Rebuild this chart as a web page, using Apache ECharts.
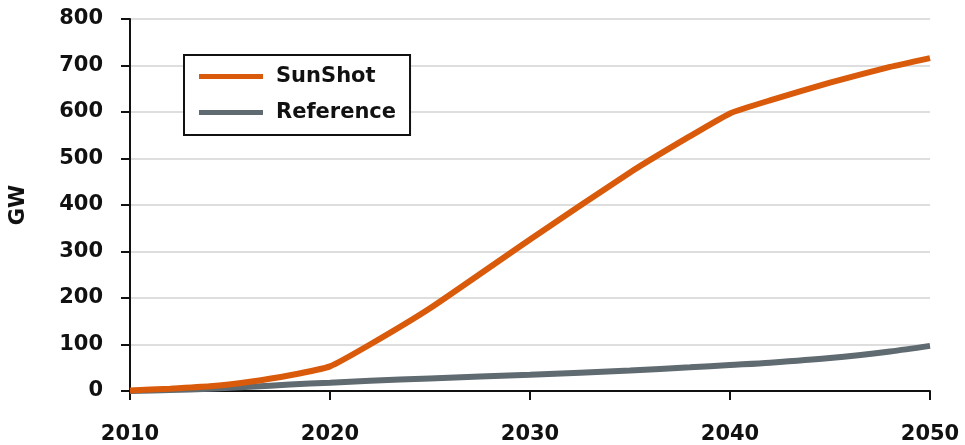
<!DOCTYPE html>
<html>
<head>
<meta charset="utf-8">
<script src="https://cdn.jsdelivr.net/npm/echarts@6/dist/echarts.min.js"></script>
<style>
  html, body { margin: 0; padding: 0; background: #ffffff; }
  #chart { width: 965px; height: 445px; }
</style>
</head>
<body>
<div id="chart"></div>
<script>
// years and capacity (GW)
const years = [2010, 2012, 2014, 2016, 2018, 2020, 2022, 2025, 2030, 2035, 2038, 2040, 2042, 2045, 2048, 2050];
const sunshot = [1, 5, 10, 20, 34, 53, 100, 178, 326, 470, 548, 597, 625, 663, 697, 716];
const reference = [0, 2, 5, 9, 14, 18, 22, 27, 35, 44, 51, 56, 61, 71, 85, 97];
const xTicks = [2010, 2020, 2030, 2040, 2050];

const font = 'DejaVu Sans';

function pairs(vals) {
  return years.map((y, i) => [y, vals[i]]);
}

const chart = echarts.init(document.getElementById('chart'));
chart.setOption({
  animation: false,
  textStyle: { fontFamily: font },
  grid: { left: 130, right: 35, top: 19, bottom: 51.5 },
  legend: {
    orient: 'vertical',
    left: 184,
    top: 55,
    padding: [11, 14, 12, 15],
    itemGap: 15,
    itemWidth: 64,
    itemHeight: 5,
    icon: 'rect',
    borderColor: '#111111',
    borderWidth: 2,
    backgroundColor: '#ffffff',
    textStyle: { fontFamily: font, fontWeight: 'bold', fontSize: 21, color: '#111111', padding: [0, 0, 0, 8] },
    data: ['SunShot', 'Reference']
  },
  xAxis: {
    type: 'value',
    min: 2010,
    max: 2050,
    interval: 10,
    axisLine: { lineStyle: { color: '#111111', width: 2 } },
    axisTick: { show: true, length: 9, lineStyle: { color: '#111111', width: 2 } },
    splitLine: { show: false },
    axisLabel: {
      margin: 33,
      fontFamily: font,
      fontWeight: 'bold',
      fontSize: 21,
      color: '#111111',
      formatter: v => xTicks.includes(v) ? String(v) : ''
    }
  },
  yAxis: {
    type: 'value',
    min: 0,
    max: 800,
    interval: 100,
    name: 'GW',
    nameLocation: 'middle',
    nameRotate: 90,
    nameGap: 101,
    nameTextStyle: { fontFamily: font, fontWeight: 'bold', fontSize: 21, color: '#111111' },
    axisLine: { show: true, lineStyle: { color: '#111111', width: 2 } },
    axisTick: { show: true, length: 9, lineStyle: { color: '#111111', width: 2 } },
    splitLine: { lineStyle: { color: '#d3d3d3', width: 1.5 } },
    axisLabel: { margin: 27, fontFamily: font, fontWeight: 'bold', fontSize: 21, color: '#111111' }
  },
  series: [
    {
      name: 'Reference',
      type: 'line',
      data: pairs(reference),
      smooth: 0.3,
      showSymbol: false,
      itemStyle: { color: '#5f6a71' },
      lineStyle: { color: '#5f6a71', width: 6 },
      z: 2
    },
    {
      name: 'SunShot',
      type: 'line',
      data: pairs(sunshot),
      smooth: 0.15,
      showSymbol: false,
      itemStyle: { color: '#d95a0b' },
      lineStyle: { color: '#d95a0b', width: 6 },
      z: 3
    }
  ]
});
</script>
</body>
</html>
